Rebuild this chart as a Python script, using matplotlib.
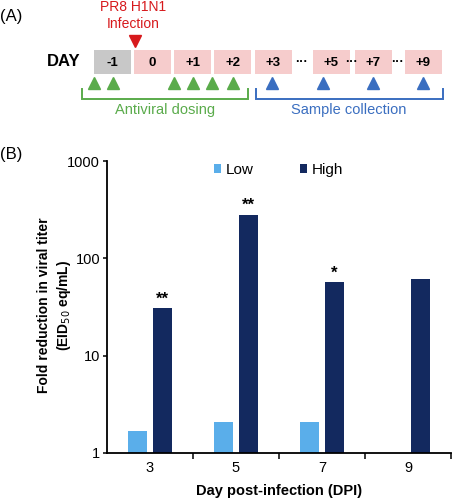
import matplotlib
matplotlib.use("Agg")
import matplotlib.pyplot as plt
import numpy as np

plt.rcParams['font.family'] = ['Liberation Sans', 'DejaVu Sans']

# ---- data ----
categories = ["3", "5", "7", "9"]
low_vals = [1.68, 2.08, 2.08, np.nan]
high_vals = [30.7, 282, 56.7, 61]
high_sig = ["**", "**", "*", ""]
yticks = [1, 10, 100, 1000]
ytick_labels = ["1", "10", "100", "1000"]

day_labels = ["-1", "0", "+1", "+2", "+3", "+5", "+7", "+9"]

W, H = 454, 500
fig = plt.figure(figsize=(W / 100, H / 100), dpi=100)

# ---- overlay axes in pixel coordinates (panel A + panel letters) ----
axA = fig.add_axes([0, 0, 1, 1])
axA.set_xlim(0, W)
axA.set_ylim(H, 0)
axA.axis("off")

green = "#5aab4b"
blue = "#3a6ec0"
red = "#d7191c"
pink = "#f6cccc"
gray = "#c8c8c8"

axA.text(0, 16, "(A)", fontsize=12, ha="left", va="center")
axA.text(0, 155, "(B)", fontsize=12, ha="left", va="center")

axA.text(133, 7, "PR8 H1N1", color=red, fontsize=10, ha="center", va="center")
axA.text(133, 24, "Infection", color=red, fontsize=10, ha="center", va="center")
axA.plot([135], [41], marker="v", color=red, markersize=9, linestyle="none")

axA.text(47, 62, "DAY", fontsize=12, fontweight="bold", ha="left", va="center")

box_left = [94, 134, 174, 214, 255, 313, 355, 405]
box_w = 37
for i, (lbl, xl) in enumerate(zip(day_labels, box_left)):
    fc = gray if i == 0 else pink
    axA.add_patch(plt.Rectangle((xl, 50), box_w, 24, facecolor=fc, edgecolor="none"))
    axA.text(xl + box_w / 2, 62.5, lbl, fontsize=9.5, fontweight="bold", ha="center", va="center")

for xd in [302, 352, 398]:
    axA.text(xd, 62, "···", fontsize=9, fontweight="bold", ha="center", va="center")

green_tri = [94, 113, 174, 193, 212, 233]
blue_tri = [272, 323, 373, 423]
axA.plot(green_tri, [83] * len(green_tri), marker="^", color=green, markersize=8, linestyle="none")
axA.plot(blue_tri, [83] * len(blue_tri), marker="^", color=blue, markersize=8, linestyle="none")

def bracket(x0, x1, col):
    axA.plot([x0, x0, x1, x1], [89, 99, 99, 89], color=col, linewidth=1.4, solid_joinstyle="miter")

bracket(82, 248, green)
bracket(256, 443, blue)
axA.text(165, 110, "Antiviral dosing", color=green, fontsize=10.5, ha="center", va="center")
axA.text(349, 110, "Sample collection", color=blue, fontsize=10.5, ha="center", va="center")

# ---- panel B ----
left, right, top, bottom = 107, 451, 161, 453
ax = fig.add_axes([left / W, 1 - bottom / H, (right - left) / W, (bottom - top) / H])
ax.patch.set_alpha(0)

x = np.arange(len(categories))
bw = 0.22
off = 0.145
low_color = "#5aaeea"
high_color = "#13295f"
ax.bar(x - off, low_vals, width=bw, color=low_color, label="Low")
ax.bar(x + off, high_vals, width=bw, color=high_color, label="High")
for xi, v, s in zip(x, high_vals, high_sig):
    if s:
        ax.text(xi + off, v * 1.04, s, ha="center", va="bottom", fontsize=12, fontweight="bold")

ax.set_yscale("log")
ax.set_ylim(1, 1000)
ax.set_xlim(-0.5, len(categories) - 0.5)
ax.set_yticks(yticks)
ax.set_yticklabels(ytick_labels)
ax.yaxis.set_minor_locator(matplotlib.ticker.NullLocator())
ax.set_xticks(x)
ax.set_xticklabels(categories)
ax.set_xticks(np.arange(len(categories)) + 0.5, minor=True)
ax.tick_params(axis="x", which="major", length=0, labelsize=10.5, pad=6)
ax.tick_params(axis="x", which="minor", length=4, width=1.1, direction="out")
ax.tick_params(axis="y", which="major", length=3, width=1.1, labelsize=10.5, pad=2)
for sp in ["top", "right"]:
    ax.spines[sp].set_visible(False)
for sp in ["left", "bottom"]:
    ax.spines[sp].set_linewidth(1.3)

ax.set_ylabel("Fold reduction in viral titer\n(EID$_{50}$ eq/mL)", fontsize=10, fontweight="bold",
              linespacing=1.35, va="center")
ax.yaxis.set_label_coords((55 - left) / (right - left), (bottom - 305) / (bottom - top))
ax.set_xlabel("Day post-infection (DPI)", fontsize=10.5, fontweight="bold", labelpad=6)

ax.legend(loc="center", bbox_to_anchor=((278.5 - left) / (right - left), (bottom - 170) / (bottom - top)),
          ncol=2, frameon=False, fontsize=11, handlelength=0.5, handleheight=0.5,
          handletextpad=0.3, columnspacing=3.0)

fig.savefig("out.png", dpi=100)
